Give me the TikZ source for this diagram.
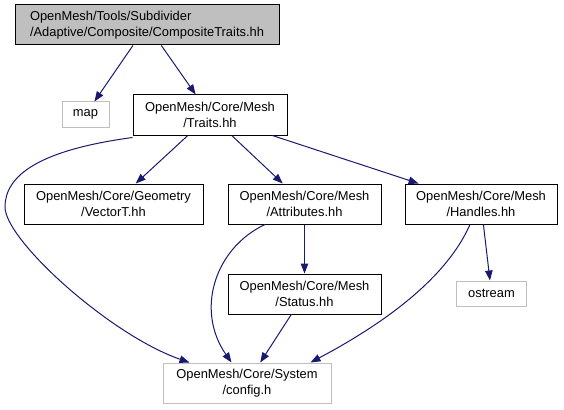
\documentclass[tikz,border=0pt]{standalone}
\usepackage{fontspec}
\setmainfont{Liberation Sans}
\usetikzlibrary{arrows.meta}
\definecolor{edgeblue}{HTML}{191970}
\definecolor{lgray}{HTML}{BFBFBF}
\tikzset{
  box/.style={draw=black, line width=1pt, fill=white, inner sep=0pt, align=center,
    font=\fontsize{12.9}{15.5}\selectfont},
  extbox/.style={box, draw=lgray},
  edge/.style={draw=edgeblue, line width=1pt, -{Triangle[length=10pt,width=7.5pt]}},
}
\begin{document}
\begin{tikzpicture}[x=1pt,y=-1pt]
\useasboundingbox (0,0) rectangle (564,409);
\node[box, fill=lgray, align=left, minimum width=264pt, minimum height=40pt] (top) at (147,25)
  {OpenMesh/Tools/Subdivider\\/Adaptive/Composite/CompositeTraits.hh};
\node[extbox, minimum width=47pt, minimum height=25pt] (map) at (85.5,114.5) {map};
\node[box, minimum width=154pt, minimum height=40pt] (traits) at (210,115) {OpenMesh/Core/Mesh\\/Traits.hh};
\node[box, minimum width=179pt, minimum height=40pt] (vectort) at (113.5,204) {OpenMesh/Core/Geometry\\/VectorT.hh};
\node[box, minimum width=153pt, minimum height=40pt] (attr) at (304.5,204) {OpenMesh/Core/Mesh\\/Attributes.hh};
\node[box, minimum width=152pt, minimum height=40pt] (handles) at (481,204) {OpenMesh/Core/Mesh\\/Handles.hh};
\node[extbox, minimum width=70pt, minimum height=25pt] (ostream) at (491.5,293.5) {ostream};
\node[box, minimum width=153pt, minimum height=40pt] (status) at (304.5,294) {OpenMesh/Core/Mesh\\/Status.hh};
\node[extbox, minimum width=168pt, minimum height=40pt] (config) at (247,383) {OpenMesh/Core/System\\/config.h};

\draw[edge] (top) -- (map);
\draw[edge] (top) -- (traits);
\draw[edge] (traits) -- (vectort);
\draw[edge] (traits) -- (attr);
\draw[edge] (traits) -- (handles);
\draw[edge] (attr) -- (status);
\draw[edge] (status) -- (config);
\draw[edge] (handles) -- (ostream);
\draw[edge] ([yshift=-2pt]traits.south west) .. controls (40,150) and (5,175) .. (5,207)
  .. controls (5,240) and (110,335) .. ([xshift=27pt]config.north west);
\draw[edge] ([xshift=-39.5pt]attr.south) .. controls (215,248) and (195,310) .. ([xshift=69pt]config.north west);
\draw[edge] ([xshift=-11pt]handles.south) .. controls (450,270) and (400,315) .. ([xshift=-21pt]config.north east);
\end{tikzpicture}
\end{document}
